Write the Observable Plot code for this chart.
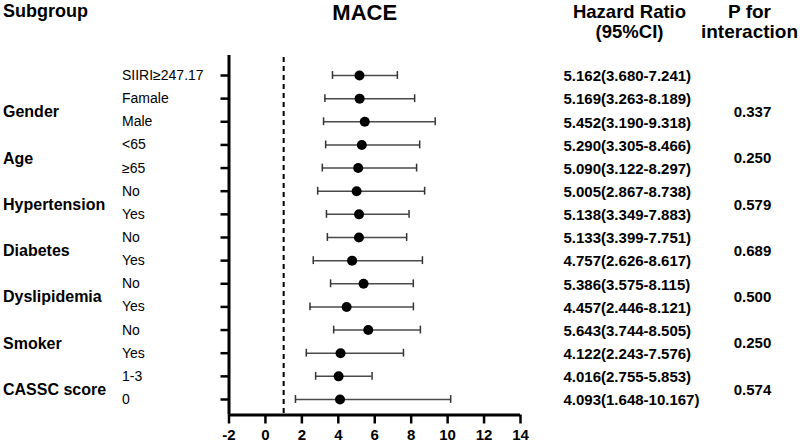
<!DOCTYPE html>
<html>
<head>
<meta charset="utf-8">
<script src="https://cdn.jsdelivr.net/npm/d3@7"></script>
<script src="https://cdn.jsdelivr.net/npm/@observablehq/plot@0.6"></script>
<style>
  html, body { margin: 0; padding: 0; background: #fff; }
  #chart svg { display: block; }
</style>
</head>
<body>
<div id="chart"></div>
<script>
// ---- data ----
const subgroups = ["SIIRI≥247.17","Famale","Male","<65","≥65","No","Yes","No","Yes","No","Yes","No","Yes","1-3","0"];
const hr = [5.162,5.169,5.452,5.290,5.090,5.005,5.138,5.133,4.757,5.386,4.457,5.643,4.122,4.016,4.093];
const lo = [3.680,3.263,3.190,3.305,3.122,2.867,3.349,3.399,2.626,3.575,2.446,3.744,2.243,2.755,1.648];
const hi = [7.241,8.189,9.318,8.466,8.297,8.738,7.883,7.751,8.617,8.115,8.121,8.505,7.576,5.853,10.167];
const groups = ["Gender","Age","Hypertension","Diabetes","Dyslipidemia","Smoker","CASSC score"];
const groupFirstRow = [1,3,5,7,9,11,13];
const pValues = ["0.337","0.250","0.579","0.689","0.500","0.250","0.574"];
const xTicks = [-2,0,2,4,6,8,10,12,14];
const xTickLabels = ["-2","0","2","4","6","8","10","12","14"];
const refLine = 1;

// ---- tables ----
const rows = subgroups.map((s, i) => ({
  i, label: s, hr: hr[i], lo: lo[i], hi: hi[i],
  text: `${hr[i].toFixed(3)}(${lo[i].toFixed(3)}-${hi[i].toFixed(3)})`
}));
const grp = groups.map((g, k) => ({g, p: pValues[k], y: groupFirstRow[k] + 0.5}));
const rowIdx = rows.map(d => d.i);
const yTop = -0.864, yBottom = 14.67;
const cap = 0.17;
const font = "'Liberation Sans', Arial, Helvetica, sans-serif";

const chart = Plot.plot({
  width: 800,
  height: 442,
  marginLeft: 228.5,
  marginRight: 280,
  marginTop: 55,
  marginBottom: 27.5,
  style: {fontFamily: font, color: "#000", background: "#fff", overflow: "visible"},
  x: {domain: [-2, 14], label: null},
  y: {domain: [yBottom, yTop], label: null},
  marks: [
    Plot.axisX({ticks: xTicks, tickSize: 9, tickPadding: 5, strokeWidth: 2.5,
      tickFormat: d => xTickLabels[xTicks.indexOf(d)], fontSize: 15, fontWeight: "bold", label: null}),
    Plot.axisY({ticks: rowIdx, tickSize: 8, strokeWidth: 2.5, tickFormat: () => "", label: null}),
    Plot.ruleX([-2], {strokeWidth: 3}),
    Plot.ruleY([yBottom], {strokeWidth: 3}),
    Plot.ruleX([refLine], {strokeWidth: 2, strokeDasharray: "5,4", insetTop: 2}),
    Plot.ruleY(rows, {y: "i", x1: "lo", x2: "hi", stroke: "#4a4a4a", strokeWidth: 1.5}),
    Plot.ruleX(rows, {x: "lo", y1: d => d.i - cap, y2: d => d.i + cap, stroke: "#333", strokeWidth: 1.5}),
    Plot.ruleX(rows, {x: "hi", y1: d => d.i - cap, y2: d => d.i + cap, stroke: "#333", strokeWidth: 1.5}),
    Plot.dot(rows, {x: "hr", y: "i", r: 5, fill: "#000", stroke: "none"}),
    // subgroup labels
    Plot.text(rows, {y: "i", text: "label", frameAnchor: "left", dx: -107, textAnchor: "start", fontSize: 14}),
    // group labels
    Plot.text(grp, {y: "y", text: "g", frameAnchor: "left", dx: -226, dy: 2, textAnchor: "start", fontSize: 16, fontWeight: "bold"}),
    // HR text
    Plot.text(rows, {y: "i", text: "text", frameAnchor: "right", dx: 43, dy: 1, textAnchor: "start", fontSize: 15, fontWeight: "bold"}),
    // P values
    Plot.text(grp, {y: "y", text: "p", frameAnchor: "right", dx: 232, dy: 2, textAnchor: "middle", fontSize: 15, fontWeight: "bold"}),
    // headers
    Plot.text(["Subgroup"], {text: d => d, frameAnchor: "top-left", lineAnchor: "middle", dx: -226, dy: -44, textAnchor: "start", fontSize: 18, fontWeight: "bold"}),
    Plot.text(["MACE"], {text: d => d, frameAnchor: "top", lineAnchor: "middle", dx: -10, dy: -43, textAnchor: "middle", fontSize: 22, fontWeight: "bold"}),
    Plot.text(["Hazard Ratio\n(95%CI)"], {text: d => d, frameAnchor: "top-right", lineAnchor: "middle", dx: 109, dy: -34, textAnchor: "middle", fontSize: 18.5, lineHeight: 1.1, fontWeight: "bold"}),
    Plot.text(["P for\ninteraction"], {text: d => d, frameAnchor: "top-right", lineAnchor: "middle", dx: 229, dy: -34, textAnchor: "middle", fontSize: 19, lineHeight: 1.05, fontWeight: "bold"})
  ]
});
document.getElementById("chart").appendChild(chart);
</script>
</body>
</html>
